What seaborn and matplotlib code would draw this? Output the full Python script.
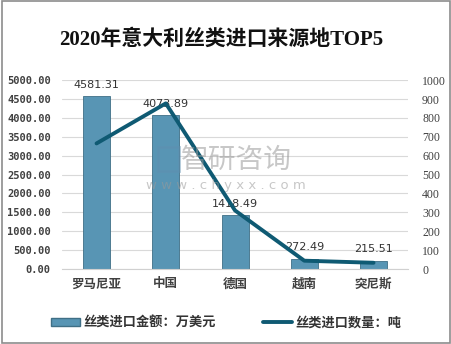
import matplotlib
matplotlib.use("Agg")
import matplotlib.pyplot as plt
import seaborn as sns
import numpy as np
import pandas as pd
from matplotlib.patches import Rectangle
from matplotlib.lines import Line2D

sns.set_style("white")
plt.rcParams['font.family'] = ['Noto Sans CJK SC', 'DejaVu Sans']

countries = ["罗马尼亚", "中国", "德国", "越南", "突尼斯"]
amount = [4581.31, 4073.89, 1418.49, 272.49, 215.51]      # 万美元
quantity = [665, 877, 310, 44, 33]                          # 吨
left_ticks = [0, 500, 1000, 1500, 2000, 2500, 3000, 3500, 4000, 4500, 5000]
right_ticks = [0, 100, 200, 300, 400, 500, 600, 700, 800, 900, 1000]

bar_label = "丝类进口金额：万美元"
line_label = "丝类进口数量：吨"
title = "2020年意大利丝类进口来源地TOP5"

df = pd.DataFrame({"country": countries, "amount": amount, "quantity": quantity})

fig = plt.figure(figsize=(4.52, 3.44), dpi=100)
fig.patch.set_facecolor("white")
# outer frame
fig.add_artist(Rectangle((0.004, 0.004), 0.992, 0.992, transform=fig.transFigure,
                         fill=False, edgecolor="#8c8c8c", linewidth=1.2))

ax = fig.add_axes([0.137, 0.218, 0.766, 0.549])
bar_color = "#5895b4"
sns.barplot(data=df, x="country", y="amount", color=bar_color, width=0.39,
            edgecolor="#3f6f86", linewidth=0.6, saturation=1, ax=ax)
ax.set_ylim(0, 5000)
ax.set_xlim(-0.5, len(countries) - 0.5)
ax.set_yticks(left_ticks)
ax.set_yticklabels([f"{v:.2f}" for v in left_ticks], family="DejaVu Sans Mono",
                   fontsize=7.5, color="#404040", fontweight="bold")
ax.set_xlabel("")
ax.set_ylabel("")
ax.tick_params(axis="x", length=0, pad=6, labelsize=9, labelcolor="#404040")
for lbl in ax.get_xticklabels():
    lbl.set_fontweight("bold")
ax.tick_params(axis="y", length=0, pad=8)
ax.yaxis.grid(True, color="#d9d9d9", linewidth=0.8)
ax.set_axisbelow(True)
for s in ["top", "left", "right"]:
    ax.spines[s].set_visible(False)
ax.spines["bottom"].set_color("#d0d0d0")

for i, v in enumerate(amount):
    ax.text(i, v + 170, f"{v:.2f}", ha="center", va="bottom", fontsize=8,
            color="#333333", family="DejaVu Sans", zorder=5)

ax2 = ax.twinx()
sns.lineplot(x=np.arange(len(countries)), y=quantity, color="#0f5a73", linewidth=2.8,
             sort=False, ax=ax2, zorder=4)
ax2.set_ylim(0, 1000)
ax2.set_yticks(right_ticks)
ax2.set_yticklabels([str(v) for v in right_ticks], family="Liberation Serif",
                    fontsize=8.5, color="#404040")
ax2.tick_params(axis="y", length=0, pad=10)
ax2.set_ylabel("")
for s in ["top", "left", "right", "bottom"]:
    ax2.spines[s].set_visible(False)

# watermark
fig.text(0.524, 0.535, "智研咨询", fontsize=20, color="#9a9a9a", alpha=0.55,
         ha="center", va="center")
fig.text(0.50, 0.462, "w w w . c h y x x . c o m", fontsize=9.5, color="#9a9a9a",
         alpha=0.55, ha="center", va="center", family="DejaVu Sans")
fig.add_artist(Rectangle((0.349, 0.503), 0.048, 0.07, transform=fig.transFigure,
                         fill=False, edgecolor="#5f8fb0", linewidth=2, alpha=0.5))

fig.text(0.49, 0.884, title, fontsize=15, fontweight="bold", ha="center", va="center",
         family=["Liberation Serif", "Noto Sans CJK SC"], color="#111111")

handles = [Rectangle((0, 0), 1, 1, facecolor=bar_color, edgecolor="#3f6f86"),
           Line2D([0], [0], color="#0f5a73", linewidth=2.8)]
leg = fig.legend(handles, [bar_label, line_label], loc="center", bbox_to_anchor=(0.5, 0.062),
                 ncol=2, frameon=False, fontsize=9.5, handlelength=2.2, handleheight=0.6,
                 columnspacing=3.6, handletextpad=0.25, labelcolor="#333333")
for t in leg.get_texts():
    t.set_fontweight("bold")

fig.savefig("out.png", dpi=100, facecolor="white")
